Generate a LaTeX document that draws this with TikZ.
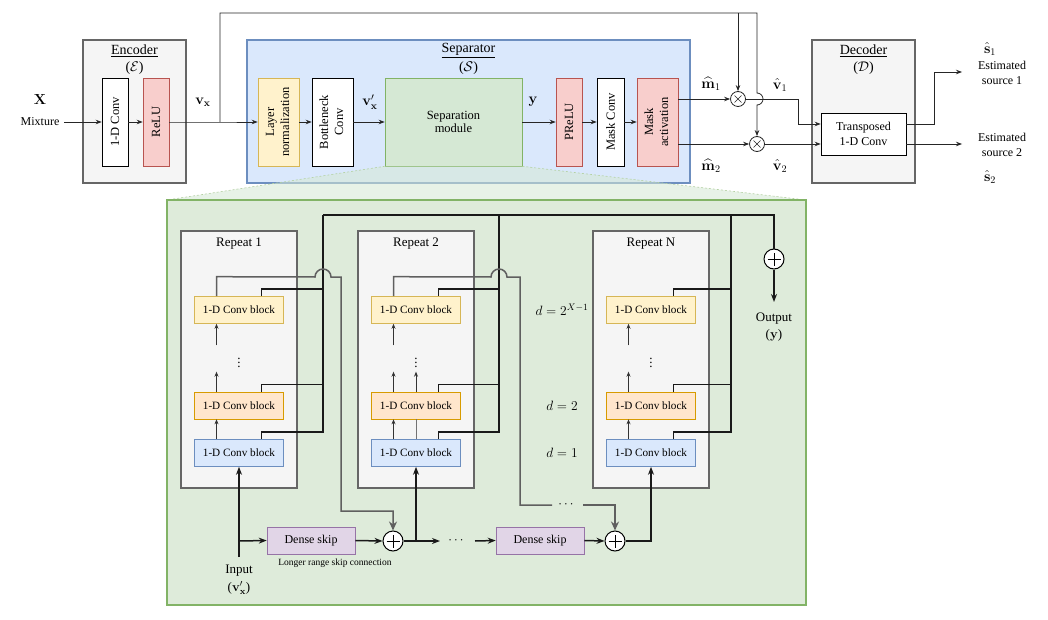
\documentclass[tikz,border=0pt]{standalone}
\usepackage{fix-cm}
\usepackage{amsmath}
\usepackage[no-math]{fontspec}
\setmainfont{Liberation Serif}
\usepackage{graphicx}
\usetikzlibrary{arrows.meta,calc}

\definecolor{encf}{HTML}{F5F5F5}
\definecolor{encd}{HTML}{666666}
\definecolor{redf}{HTML}{F8CECC}
\definecolor{redd}{HTML}{B85450}
\definecolor{yelf}{HTML}{FFF2CC}
\definecolor{yeld}{HTML}{D6B656}
\definecolor{orf}{HTML}{FFE6CC}
\definecolor{ord}{HTML}{D79B00}
\definecolor{bluf}{HTML}{DAE8FC}
\definecolor{blud}{HTML}{6C8EBF}
\definecolor{grnf}{HTML}{D5E8D4}
\definecolor{grnd}{HTML}{82B366}
\definecolor{bgg}{HTML}{DEEBDA}
\definecolor{purf}{HTML}{E1D5E7}
\definecolor{purd}{HTML}{9673A6}
\definecolor{gline}{HTML}{5F5F5F}

\begin{document}
\begin{tikzpicture}[x=1pt,y=-1pt,
  arr/.style={-{Stealth[length=6pt,width=4.5pt]}, line width=0.8pt, draw=black!85},
  ln/.style={line width=0.8pt, draw=black!85},
  bus/.style={line width=1.5pt, draw=black!90},
  busarr/.style={bus, -{Stealth[length=8pt,width=6pt]}},
  gbus/.style={line width=1.5pt, draw=gline},
  gbusarr/.style={gbus, -{Stealth[length=9pt,width=8pt]}},
  inarr/.style={-{Stealth[length=5pt,width=4pt]}, line width=0.7pt, draw=black!80},
  thinln/.style={line width=0.7pt, draw=black!55},
  outer/.style={draw=encd, fill=encf, line width=1.5pt, inner sep=0pt},
  vbox/.style={draw, line width=0.6pt, minimum width=26pt, minimum height=88pt, inner sep=0pt, font=\fontsize{12.5}{15}\selectfont},
  cblk/.style={draw, line width=0.6pt, minimum width=89pt, minimum height=27pt, inner sep=0pt, font=\fontsize{11.2}{13}\selectfont},
  dense/.style={draw=purd, fill=purf, line width=0.6pt, minimum width=88pt, minimum height=27pt, inner sep=0pt, font=\fontsize{12}{14}\selectfont},
  op/.style={circle, draw=black!85, fill=white, line width=0.8pt, minimum size=15pt, inner sep=0pt,
    path picture={\draw[line width=0.6pt] ([shift={(-3.5pt,-3.5pt)}]path picture bounding box.center) -- ([shift={(3.5pt,3.5pt)}]path picture bounding box.center);
      \draw[line width=0.6pt] ([shift={(-3.5pt,3.5pt)}]path picture bounding box.center) -- ([shift={(3.5pt,-3.5pt)}]path picture bounding box.center);}},
  plus/.style={circle, draw=black, fill=white, line width=1pt, minimum size=20pt, inner sep=0pt,
    path picture={\draw[line width=1pt] ([xshift=-6.5pt]path picture bounding box.center) -- ([xshift=6.5pt]path picture bounding box.center);
      \draw[line width=1pt] ([yshift=-6.5pt]path picture bounding box.center) -- ([yshift=6.5pt]path picture bounding box.center);}},
  lbl/.style={inner sep=0pt, font=\fontsize{14.5}{16}\selectfont},
  txt/.style={inner sep=0pt, align=center, font=\fontsize{12}{15}\selectfont},
  ttl/.style={inner sep=0pt, font=\fontsize{14}{16}\selectfont},
]
\useasboundingbox (0,0) rectangle (1048,620);
\fill[white] (0,0) rectangle (1048,620);

% ---------------- Encoder ----------------
\node[outer, minimum width=103pt, minimum height=143pt] (enc) at (134.5,111.5) {};
\node[ttl] (enct) at (134.5,51) {\underline{Encoder}};
\node[ttl] (encs) at (134.5,68) {($\mathcal{E}$)};
\node[vbox, fill=white] (conv) at (115,122) {\rotatebox{90}{1-D Conv}};
\node[vbox, fill=redf, draw=redd] (relu) at (156,122) {\rotatebox{90}{ReLU}};

% ---------------- Separator ----------------
\node[draw=blud, fill=bluf, line width=1.5pt, minimum width=443pt, minimum height=143pt, inner sep=0pt] (sep) at (468.5,111.5) {};
\node[ttl] (sept) at (468.5,51) {\underline{Separator}};
\node[ttl] (seps) at (468.5,68) {($\mathcal{S}$)};
\node[vbox, fill=yelf, draw=yeld, minimum width=41pt] (lnorm) at (278.5,122) {\rotatebox{90}{\begin{tabular}{@{}c@{}}Layer\\normalization\end{tabular}}};
\node[vbox, fill=white, minimum width=41pt] (bn) at (332.5,122) {\rotatebox{90}{\begin{tabular}{@{}c@{}}Bottleneck\\Conv\end{tabular}}};
\node[draw=grnd, fill=grnf, line width=0.6pt, minimum width=137pt, minimum height=88pt, inner sep=0pt, align=center, font=\fontsize{12.5}{13.5}\selectfont] (sm) at (453.5,122) {Separation\\module};
\node[vbox, fill=redf, draw=redd] (prelu) at (569,122) {\rotatebox{90}{PReLU}};
\node[vbox, fill=white, minimum width=27pt] (mc) at (610.5,122) {\rotatebox{90}{Mask Conv}};
\node[vbox, fill=redf, draw=redd, minimum width=41pt] (ma) at (657.5,122) {\rotatebox{90}{\begin{tabular}{@{}c@{}}Mask\\activation\end{tabular}}};

% ---------------- Decoder ----------------
\node[outer, minimum width=103pt, minimum height=143pt] (dec) at (863.5,111.5) {};
\node[ttl] (dect) at (863.5,51) {\underline{Decoder}};
\node[ttl] (decs) at (863.5,68) {($\mathcal{D}$)};
\node[draw, fill=white, line width=0.6pt, minimum width=85pt, minimum height=42pt, inner sep=0pt, align=center, font=\fontsize{12}{15}\selectfont] (tc) at (863.5,134) {Transposed\\1-D Conv};

\node[op] (m1) at (738,99) {};
\node[op] (m2) at (757,144) {};

% ---------------- top connectors ----------------
\node[lbl] (X) at (40,100) {$\mathbf{X}$};
\node[inner sep=0pt, font=\fontsize{12}{14}\selectfont] (mix) at (40,122) {Mixture};
\draw[arr] ([xshift=4.5pt]mix.east) -- (conv.west);
\draw[arr] (conv) -- (relu);
\coordinate (jv) at (220,122);
\draw[arr] (relu.east) -- (jv) -- (lnorm.west);
\coordinate (tl) at (220,13);
\coordinate (tm) at (738,13);
\coordinate (tr) at (757,13);
\coordinate (hopa) at (757,93);
\draw[arr] (jv) -- (tl) -- (tr) -- (hopa) arc[start angle=90, end angle=-90, radius=6pt] -- (m2.north);
\draw[arr] (tm) -- (m1.north);
\node[lbl] (vx) at (203,102) {$\mathbf{v}_{\mathbf{x}}$};
\node[lbl] (vpx) at (370,102) {$\mathbf{v}'_{\mathbf{x}}$};
\node[lbl] (yl) at (533,102) {$\mathbf{y}$};
\draw[arr] (lnorm) -- (bn);
\draw[arr] (bn) -- (sm);
\draw[arr] (sm) -- (prelu);
\draw[arr] (prelu) -- (mc);
\draw[arr] (mc) -- (ma);
\draw[arr] (ma.east |- m1) -- (m1.west);
\draw[arr] (ma.east |- m2) -- (m2.west);
\node[lbl] (m1l) at (711,84) {$\widehat{\mathbf{m}}_1$};
\node[lbl] (m2l) at (711,166) {$\widehat{\mathbf{m}}_2$};
\node[lbl] (v1l) at (780,85) {$\hat{\mathbf{v}}_1$};
\node[lbl] (v2l) at (780,166) {$\hat{\mathbf{v}}_2$};
\coordinate (v1a) at (798,99);
\coordinate (v1b) at (798,124);
\draw[arr] (m1.east) -- (v1a) -- (v1b) -- (tc.west |- v1b);
\draw[arr] (m2.east) -- (tc.west |- m2);
\coordinate (o1a) at (934,124);
\coordinate (o1b) at (934,72);
\coordinate (o1c) at (962,72);
\coordinate (o2) at (962,144);
\draw[arr] (tc.east |- o1a) -- (o1a) -- (o1b) -- (o1c);
\draw[arr] (tc.east |- o2) -- (o2);
\node[lbl] (s1) at (990,49) {$\hat{\mathbf{s}}_1$};
\node[txt] (es1) at (1002,72.5) {Estimated\\source 1};
\node[txt] (es2) at (1002,144.5) {Estimated\\source 2};
\node[lbl] (s2) at (990,177) {$\hat{\mathbf{s}}_2$};

% ---------------- zoom trapezoid and big box ----------------
\fill[grnf, opacity=0.55] (sm.south west) -- (sm.south east) -- (806,200) -- (167,200) -- cycle;
\draw[grnd!60, line width=0.6pt, dash pattern=on 2pt off 2pt] (sm.south west) -- (167,200);
\draw[grnd!60, line width=0.6pt, dash pattern=on 2pt off 2pt] (sm.south east) -- (806,200);
\node[draw=grnd, fill=bgg, line width=1.5pt, minimum width=639pt, minimum height=405pt, inner sep=0pt] (gb) at (486.5,402.5) {};

% ---------------- repeat boxes ----------------
\node[outer, minimum width=116pt, minimum height=257pt] (r1) at (239,359.5) {};
\node[outer, minimum width=116pt, minimum height=257pt] (r2) at (416,359.5) {};
\node[outer, minimum width=116pt, minimum height=257pt] (rN) at (651,359.5) {};
\node[inner sep=0pt, font=\fontsize{13}{15}\selectfont] (r1t) at (239,244) {Repeat 1};
\node[inner sep=0pt, font=\fontsize{13}{15}\selectfont] (r2t) at (416,244) {Repeat 2};
\node[inner sep=0pt, font=\fontsize{13}{15}\selectfont] (rNt) at (651,244) {Repeat N};

\foreach \r/\x in {1/239, 2/416, N/651} {
  \node[cblk, fill=yelf, draw=yeld] (a\r) at (\x,310) {1-D Conv block};
  \node[cblk, fill=orf, draw=ord] (b\r) at (\x,405.5) {1-D Conv block};
  \node[cblk, fill=bluf, draw=blud] (c\r) at (\x,453) {1-D Conv block};
  \node[inner sep=0pt, font=\fontsize{13}{15}\selectfont] (dots\r) at (\x,360) {$\vdots$};
  \draw[inarr] ([xshift=-22.5pt]a\r.south) ++(0,21.5) -- ([xshift=-22.5pt]a\r.south);
  \draw[inarr] ([xshift=-22.5pt]b\r.north) -- ++(0,-20);
  \draw[inarr] ([xshift=-22.5pt]c\r.north) -- ([xshift=-22.5pt]b\r.south);
}
\draw[inarr] (b2.north) -- ++(0,-20);
\draw[thinln] (c2.north) -- (b2.south);

% ---------------- skip buses (black) ----------------
\coordinate (bus1) at (323,215);
\coordinate (bus2) at (499,215);
\coordinate (busN) at (731,215);
\node[plus] (pout) at (774,259) {};
\foreach \r in {1,2,N} {
  \foreach \k in {a,b,c} {
    \draw[bus] ([xshift=22.5pt]\k\r.north) -- ++(0,-7) -| (bus\r);
  }
}
\draw[bus] (bus1) -- (774,215) -- (pout.north);
\coordinate (outend) at (774,302);
\draw[busarr] (pout.south) -- (outend);
\node[txt, font=\fontsize{13}{17}\selectfont] (outl) at (774,327) {Output\\($\mathbf{y}$)};

% ---------------- bottom row ----------------
\node[dense] (d1) at (311,540.5) {Dense skip};
\node[plus] (p1) at (393,541) {};
\node[dense] (d2) at (540,540.5) {Dense skip};
\node[plus] (p2) at (615,541) {};
\coordinate (inp) at (239,557);
\coordinate (inj) at (239,541);
\draw[busarr] (inp) -- (c1.south);
\draw[busarr] (inj) -- (d1.west);
\draw[busarr] (d1.east) -- (p1.west);
\coordinate (j2) at (416,541);
\draw[busarr] (p1.east) -- (j2) -- (c2.south);
\coordinate (j2e) at (440,541);
\draw[busarr] (j2) -- (j2e);
\node[inner sep=0pt, font=\fontsize{13}{15}\selectfont] (hd) at (457,541) {$\cdots$};
\coordinate (j3) at (475,541);
\draw[busarr] (j3) -- (d2.west);
\draw[busarr] (d2.east) -- (p2.west);
\draw[busarr] (p2.east) -| (cN.south);
\node[inner sep=0pt, font=\fontsize{9.5}{11}\selectfont] (lrs) at (335,563) {Longer range skip connection};
\node[txt, font=\fontsize{13}{18}\selectfont] (inl) at (239,580) {Input\\($\mathbf{v}'_{\mathbf{x}}$)};

% ---------------- gray residual lines ----------------
\draw[gbusarr] ([xshift=-22.5pt]a1.north) -- ++(0,-19.5) -- (315,277) arc[start angle=180, end angle=0, radius=8pt] -- (341,277) -- (341,511) -- (393,511) -- (p1.north);
\draw[gbus] ([xshift=-22.5pt]a2.north) -- ++(0,-19.5) -- (491,277) arc[start angle=180, end angle=0, radius=8pt] -- (520,277) -- (520,505) -- (552,505);
\node[inner sep=0pt, font=\fontsize{13}{15}\selectfont] (gd) at (567,505) {$\cdots$};
\coordinate (g2s) at (583,505);
\draw[gbusarr] (g2s) -- (615,505) -- (p2.north);

% ---------------- d labels ----------------
\node[inner sep=0pt, font=\fontsize{13.5}{15}\selectfont] (dX) at (562,310) {$d=2^{X-1}$};
\node[inner sep=0pt, font=\fontsize{13.5}{15}\selectfont] (d2l) at (562,406) {$d=2$};
\node[inner sep=0pt, font=\fontsize{13.5}{15}\selectfont] (d1l) at (562,453) {$d=1$};
\end{tikzpicture}
\end{document}
